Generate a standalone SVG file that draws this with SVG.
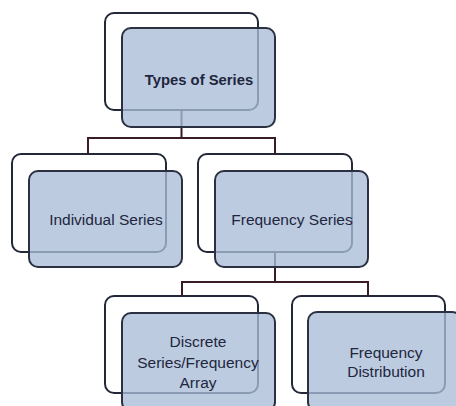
<svg xmlns="http://www.w3.org/2000/svg" width="456" height="406" viewBox="0 0 456 406">
  <style>
    .back { fill: #ffffff; stroke: #232838; stroke-width: 2; }
    .front { fill: #a9bcd6; fill-opacity: 0.78; stroke: #2b3142; stroke-width: 2; }
    .wire { fill: none; stroke: #3a1c26; stroke-width: 2; }
    .lbl { font-family: "Liberation Sans", Arial, sans-serif; font-size: 15.5px; fill: #1e2640; text-anchor: middle; }
    .bold { font-weight: bold; font-size: 14.8px; }
  </style>
  <rect width="456" height="406" fill="#ffffff"/>

  <!-- back frames -->
  <g id="back-frames">
    <rect class="back" x="105" y="13" width="153" height="97" rx="9"/>
    <rect class="back" x="12" y="154" width="154" height="98" rx="9"/>
    <rect class="back" x="198" y="154" width="154" height="98" rx="9"/>
    <rect class="back" x="105" y="296" width="153" height="97" rx="9"/>
    <rect class="back" x="292" y="296" width="153" height="97" rx="9"/>
  </g>

  <!-- connectors -->
  <g id="connectors">
    <path class="wire" d="M181.5 110 V138 M88 154 V138 H275 V154"/>
    <path class="wire" d="M275 252 V282 M182 296 V282 H368 V296"/>
  </g>

  <g id="types-of-series">
    <rect class="front" x="122" y="28" width="153" height="99" rx="9"/>
    <text class="lbl bold" x="199" y="85">Types of Series</text>
  </g>

  <g id="individual-series">
    <rect class="front" x="29" y="171" width="153" height="96" rx="9"/>
    <text class="lbl" x="106" y="225">Individual Series</text>
  </g>

  <g id="frequency-series">
    <rect class="front" x="215" y="171" width="153" height="96" rx="9"/>
    <text class="lbl" x="292" y="225">Frequency Series</text>
  </g>

  <g id="discrete-series">
    <rect class="front" x="122" y="313" width="153" height="98" rx="9"/>
    <text class="lbl" x="198" y="347">Discrete</text>
    <text class="lbl" x="198" y="368">Series/Frequency</text>
    <text class="lbl" x="198" y="388">Array</text>
  </g>

  <g id="frequency-distribution">
    <rect class="front" x="308" y="312" width="153" height="99" rx="9"/>
    <text class="lbl" x="386" y="358">Frequency</text>
    <text class="lbl" x="386" y="377">Distribution</text>
  </g>
</svg>
